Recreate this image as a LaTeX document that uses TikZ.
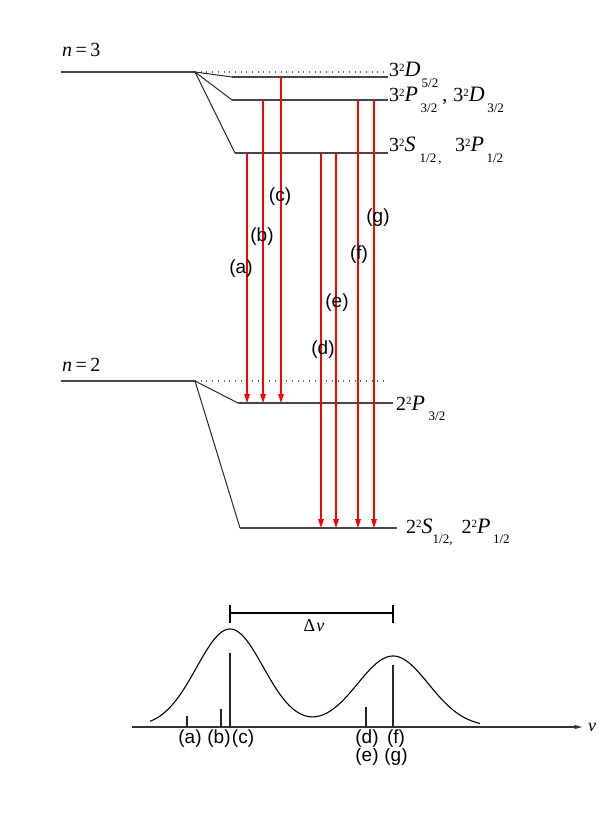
\documentclass[tikz,border=0pt]{standalone}
\usepackage{fontspec}
\setmainfont{Liberation Serif}
\setsansfont{Liberation Sans}
\usetikzlibrary{arrows.meta}
\newcommand\lvsup[1]{\raisebox{5.5pt}{\fontsize{11}{11}\selectfont #1}}
\newcommand\lvsub[1]{\raisebox{-10.5pt}{\fontsize{13}{13}\selectfont #1}}
% digit, letter, slot width for the letter, subscript
\newcommand\trm[4]{#1\lvsup{2}\makebox[#3][l]{\fontsize{22}{22}\selectfont\textit{#2}}\lvsub{#4}}
\begin{document}
\begin{tikzpicture}[x=1pt,y=-1pt,
  lvl/.style={line width=1.4pt,draw=black!72},
  slant/.style={line width=1pt,draw=black!85},
  dots/.style={draw=black!60,line width=1.2pt,dash pattern=on 1pt off 4.7pt},
  trans/.style={draw=red,line width=1.1pt,-{Triangle[length=9pt,width=5.5pt]}},
  tlab/.style={font=\sffamily\fontsize{19}{19}\selectfont,inner sep=0pt},
  term/.style={anchor=base west,inner sep=0pt,font=\fontsize{20}{20}\selectfont},
  nlab/.style={anchor=base west,inner sep=0pt,font=\fontsize{20}{20}\selectfont},
  tick/.style={line width=1.1pt,draw=black!85}]
\useasboundingbox (0,0) rectangle (597,818);

% ---------------- n = 3 ----------------
\coordinate (n3L) at (61,72);
\coordinate (n3R) at (195,72);
\coordinate (dot3) at (388,72);
\coordinate (D52a) at (232,77);
\coordinate (D52b) at (388,77);
\coordinate (P32a) at (232,100);
\coordinate (P32b) at (388,100);
\coordinate (S12a) at (235,153);
\coordinate (S12b) at (388,153);
\draw[lvl] (n3L) -- (n3R);
\draw[dots] (n3R) -- (dot3);
\draw[slant] (n3R) -- (D52a);
\draw[slant] (n3R) -- (P32a);
\draw[slant] (n3R) -- (S12a);
\draw[lvl] (D52a) -- (D52b);
\draw[lvl] (P32a) -- (P32b);
\draw[lvl] (S12a) -- (S12b);
\node[nlab] (n3t) at (62,57) {\textit{n}\kern3.5pt=\kern3.5pt3};
\node[term] (tD52) at (389,77) {\trm{3}{D}{17pt}{5/2}};
\node[term] (tP32) at (389,102) {\trm{3}{P}{16pt}{3/2}\kern5pt,\kern6pt\trm{3}{D}{18.5pt}{3/2}};
\node[term] (tS12) at (389,152) {\trm{3}{S}{15pt}{1/2\kern2pt,}\kern13.5pt\trm{3}{P}{16pt}{1/2}};

% ---------------- n = 2 ----------------
\coordinate (n2L) at (61,381);
\coordinate (n2R) at (195,381);
\coordinate (dot2) at (387,381);
\coordinate (P2a) at (238,403);
\coordinate (P2b) at (393,403);
\coordinate (S2a) at (240,528);
\coordinate (S2b) at (397,528);
\draw[lvl] (n2L) -- (n2R);
\draw[dots] (n2R) -- (dot2);
\draw[slant] (n2R) -- (P2a);
\draw[slant] (n2R) -- (S2a);
\draw[lvl] (P2a) -- (P2b);
\draw[lvl] (S2a) -- (S2b);
\node[nlab] (n2t) at (62,371) {\textit{n}\kern3.5pt=\kern3.5pt2};
\node[term] (tP2) at (396,410) {\trm{2}{P}{17pt}{3/2}};
\node[term] (tS2) at (406,533) {\trm{2}{S}{11pt}{1/2,}\kern9pt\trm{2}{P}{16pt}{1/2}};

% ---------------- transitions ----------------
\coordinate (a1) at (247,153); \coordinate (a2) at (247,403);
\coordinate (b1) at (263,100); \coordinate (b2) at (263,403);
\coordinate (c1) at (281,77);  \coordinate (c2) at (281,403);
\coordinate (d1) at (321,153); \coordinate (d2) at (321,528);
\coordinate (e1) at (336,153); \coordinate (e2) at (336,528);
\coordinate (f1) at (358,100); \coordinate (f2) at (358,528);
\coordinate (g1) at (374,100); \coordinate (g2) at (374,528);
\draw[trans] (a1) -- (a2);
\draw[trans] (b1) -- (b2);
\draw[trans] (c1) -- (c2);
\draw[trans] (d1) -- (d2);
\draw[trans] (e1) -- (e2);
\draw[trans] (f1) -- (f2);
\draw[trans] (g1) -- (g2);
\node[tlab] (la) at (241,269) {(a)};
\node[tlab] (lb) at (262,237) {(b)};
\node[tlab] (lc) at (280,197) {(c)};
\node[tlab] (ld) at (323,350) {(d)};
\node[tlab] (le) at (337,303) {(e)};
\node[tlab] (lf) at (359,255) {(f)};
\node[tlab] (lg) at (378,218) {(g)};

% ---------------- spectrum ----------------
\coordinate (ax0) at (132,727);
\coordinate (ax1) at (582,727);
\draw[line width=1.3pt,draw=black!80,-{Stealth[length=8pt,width=4.5pt]}] (ax0) -- (ax1);
\node[inner sep=0pt,font=\fontsize{18}{18}\selectfont] (nu) at (592,727) {\textit{ν}};
\draw[line width=1.1pt,domain=150:480,samples=150,smooth]
  plot (\x,{727-98*exp(-0.5*((\x-230)/33.5)^2)-71*exp(-0.5*((\x-393)/35.5)^2)});

\coordinate (ta) at (187,727); \coordinate (tat) at (187,716);
\coordinate (tb) at (221,727); \coordinate (tbt) at (221,709);
\coordinate (tc) at (230,727); \coordinate (tct) at (230,653);
\coordinate (td) at (366,727); \coordinate (tdt) at (366,707);
\coordinate (tf) at (393,727); \coordinate (tft) at (393,665);
\draw[tick] (ta) -- (tat);
\draw[tick] (tb) -- (tbt);
\draw[tick] (tc) -- (tct);
\draw[tick] (td) -- (tdt);
\draw[tick] (tf) -- (tft);

\node[tlab] (sa) at (190,739) {(a)};
\node[tlab] (sb) at (219,739) {(b)};
\node[tlab] (sc) at (243,739) {(c)};
\node[tlab] (se) at (367,757) {(e)};
\node[tlab] (sg) at (396,757) {(g)};
\node[tlab,fill=white] (sd) at (367,739) {(d)};
\node[tlab,fill=white] (sf) at (396,739) {(f)};

\coordinate (dv0) at (230,613);
\coordinate (dv1) at (393,613);
\draw[line width=1.2pt] (dv0) -- (dv1);
\draw[line width=1.2pt] ([yshift=8pt]dv0) -- ([yshift=-10pt]dv0);
\draw[line width=1.2pt] ([yshift=8pt]dv1) -- ([yshift=-10pt]dv1);
\node[inner sep=0pt,font=\fontsize{18}{18}\selectfont] (dvl) at (314,626) {Δ\kern1pt\textit{ν}};
\end{tikzpicture}
\end{document}
